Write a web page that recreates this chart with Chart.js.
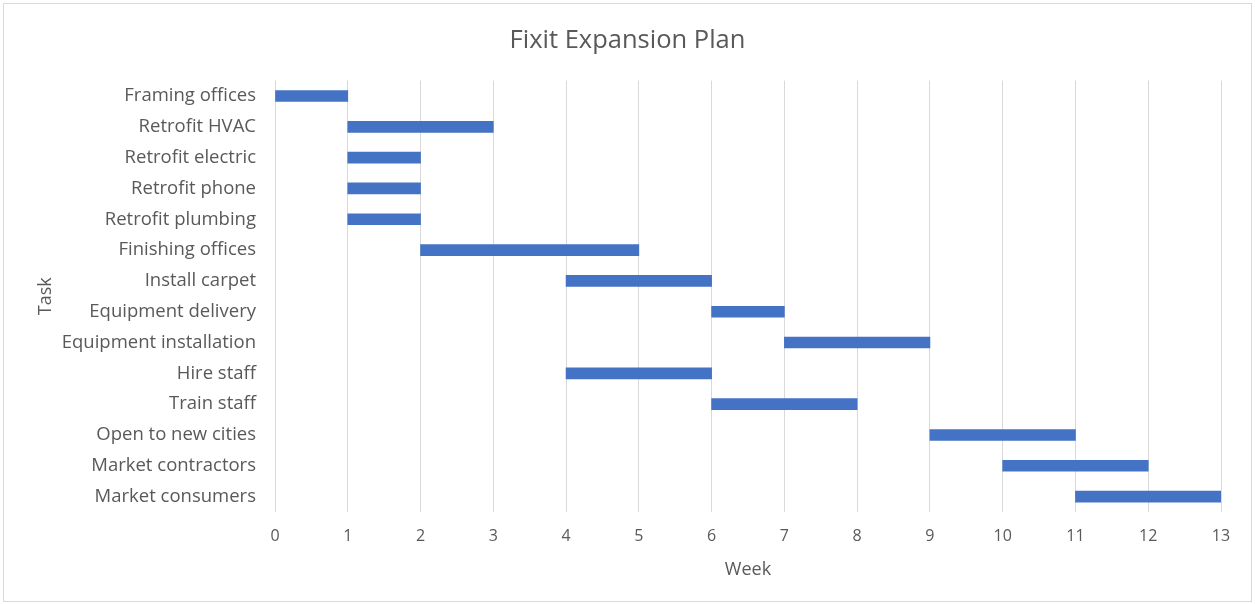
<!DOCTYPE html>
<html>
<head>
<meta charset="utf-8">
<script src="https://cdn.jsdelivr.net/npm/chart.js@4"></script>
<style>
html,body{margin:0;padding:0;background:#fff;}
#wrap{position:absolute;left:0;top:0;width:1255px;height:604px;}
</style>
</head>
<body>
<div id="wrap"><canvas id="c" width="1255" height="604"></canvas></div>
<script>
const tasks = ["Framing offices","Retrofit HVAC","Retrofit electric","Retrofit phone","Retrofit plumbing","Finishing offices","Install carpet","Equipment delivery","Equipment installation","Hire staff","Train staff","Open to new cities","Market contractors","Market consumers"];
const startWeek = [0,1,1,1,1,2,4,6,7,4,6,9,10,11];
const endWeek   = [1,3,2,2,2,5,6,7,9,6,8,11,12,13];
const weekTicks = [0,1,2,3,4,5,6,7,8,9,10,11,12,13];

const FONT = "'Open Sans', sans-serif";
const TXT = '#595959';

const borderPlugin = {
  id: 'outerBorder',
  beforeDraw(chart) {
    const ctx = chart.ctx;
    ctx.save();
    ctx.fillStyle = '#fff';
    ctx.fillRect(0,0,chart.width,chart.height);
    ctx.strokeStyle = '#d9d9d9';
    ctx.lineWidth = 1;
    ctx.strokeRect(3.5,3.5,chart.width-7,chart.height-6);
    ctx.restore();
  }
};

new Chart(document.getElementById('c'), {
  type: 'bar',
  data: {
    labels: tasks,
    datasets: [{
      data: tasks.map((t,i) => [startWeek[i], endWeek[i]]),
      backgroundColor: '#4472C4',
      borderWidth: 0,
      barThickness: 11
    }]
  },
  options: {
    indexAxis: 'y',
    responsive: false,
    animation: false,
    layout: { padding: { left: 0, right: 0, top: 0, bottom: 0 } },
    plugins: {
      legend: { display: false },
      tooltip: { enabled: false },
      title: {
        display: true,
        text: 'Fixit Expansion Plan',
        color: TXT,
        font: { family: FONT, size: 25.5, weight: 'normal' },
        padding: { top: 25, bottom: 25 }
      }
    },
    scales: {
      x: {
        type: 'linear',
        min: 0, max: 13,
        afterBuildTicks(scale) { scale.ticks = weekTicks.map(v => ({ value: v })); },
        afterFit(scale) { scale.height = 92; },
        grid: { color: '#d9d9d9', drawTicks: false },
        border: { display: false },
        ticks: { color: TXT, font: { family: FONT, size: 16 }, padding: 15, autoSkip: false, maxRotation: 0 },
        title: { display: true, text: 'Week', color: TXT, font: { family: FONT, size: 18 }, padding: 23 }
      },
      y: {
        afterFit(scale) { scale.width = 275; },
        grid: { display: false, drawTicks: false },
        border: { display: false },
        ticks: { color: TXT, font: { family: FONT, size: 18.5 }, padding: 19, autoSkip: false },
        title: { display: true, text: 'Task', color: TXT, font: { family: FONT, size: 18 }, padding: 35 }
      },
      yRightSpace: {
        type: 'category',
        position: 'right',
        afterFit(scale) { scale.width = 34; },
        grid: { display: false, drawTicks: false },
        border: { display: false },
        ticks: { display: false }
      }
    }
  },
  plugins: [borderPlugin]
});
</script>
</body>
</html>
